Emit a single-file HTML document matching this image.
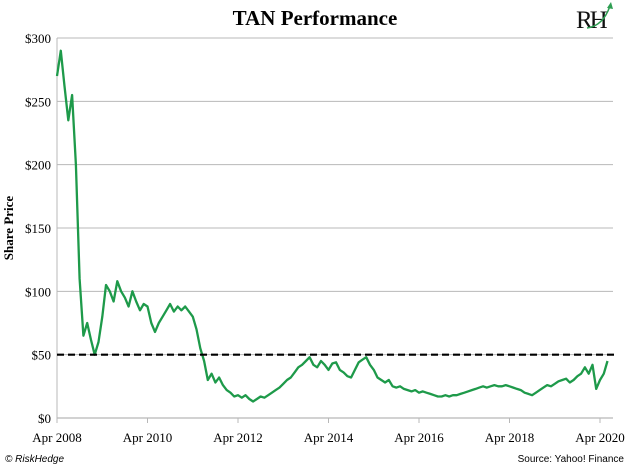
<!DOCTYPE html>
<html><head><meta charset="utf-8"><style>
body{margin:0;background:#fff;width:630px;height:468px;overflow:hidden}
svg{display:block}
</style></head><body>
<svg id="chart" width="630" height="468" font-family="'Liberation Serif', serif">
<text x="315" y="25" text-anchor="middle" font-size="21" font-weight="bold">TAN Performance</text>
<g>
<text x="576" y="28" font-size="25" fill="#111" letter-spacing="-3">RH</text>
<path d="M587 28 Q603 26 610 6" stroke="#2e9e52" stroke-width="1.5" fill="none"/>
<path d="M607 8 L611 2 L613 9 Z" fill="#2e9e52"/>
</g>
<text transform="translate(13,228) rotate(-90)" text-anchor="middle" font-size="13" font-weight="bold">Share Price</text>
<g id="grid"></g><g id="yticks"></g><g id="xticks"></g>
<g id="series"></g>
<text x="5" y="462" font-family="'Liberation Sans', sans-serif" font-size="10" font-style="italic">© RiskHedge</text>
<text x="624" y="462" text-anchor="end" font-family="'Liberation Sans', sans-serif" font-size="10">Source: Yahoo! Finance</text>
</svg>
<script>
const yTicks=[0,50,100,150,200,250,300];
const xLabels=["Apr 2008","Apr 2010","Apr 2012","Apr 2014","Apr 2016","Apr 2018","Apr 2020"];
const refLevel=[50];
const prices2008=[270,290,262,235,255,200,110,65,75];
const prices2009=[62,50,60,80,105,100,92,108,100,95,88,100];
const prices2010=[92,85,90,88,75,68,75,80,85,90,84,88];
const prices2011=[85,88,84,80,70,55,45,30,35,28,32,26];
const prices2012=[22,20,17,18,16,18,15,13,15,17,16,18];
const prices2013=[20,22,24,27,30,32,36,40,42,45,48,42];
const prices2014=[40,45,42,38,43,44,38,36,33,32,38,44];
const prices2015=[46,48,42,38,32,30,28,30,25,24,25,23];
const prices2016=[22,21,22,20,21,20,19,18,17,17,18,17];
const prices2017=[18,18,19,20,21,22,23,24,25,24,25,26];
const prices2018=[25,25,26,25,24,23,22,20,19,18,20,22];
const prices2019=[24,26,25,27,29,30,31,28,30,33,35,40];
const prices2020=[35,42,23,30,35,45];
const prices=[].concat(prices2008,prices2009,prices2010,prices2011,prices2012,prices2013,prices2014,prices2015,prices2016,prices2017,prices2018,prices2019,prices2020);
const NS="http://www.w3.org/2000/svg";
const X0=57,PXYR=45.25,Y0=418,PXD=380/300;
const xs=m=>X0+m/12*PXYR, ys=v=>Y0-v*PXD;
function mk(t,a,p){const e=document.createElementNS(NS,t);for(const k in a)e.setAttribute(k,a[k]);p.appendChild(e);return e;}
const grid=document.getElementById('grid'),yt=document.getElementById('yticks'),xt=document.getElementById('xticks'),ser=document.getElementById('series');
yTicks.forEach(v=>{
 if(v>0){const g=mk('line',{x1:X0,x2:613,y1:ys(v),y2:ys(v),stroke:'#b8b8b8','stroke-width':1},grid);
 
 }
 const t=mk('text',{x:X0-6,y:ys(v)+5,'text-anchor':'end','font-size':13},yt);t.textContent='$'+v;
 
 
});
const ax=mk('line',{x1:X0,x2:X0,y1:ys(300),y2:Y0,stroke:'#b8b8b8','stroke-width':1},grid);


const bx=mk('line',{x1:X0,x2:613,y1:Y0,y2:Y0,stroke:'#b8b8b8','stroke-width':1.2},grid);


xLabels.forEach((l,i)=>{const x=xs(i*24);
 mk('line',{x1:x,x2:x,y1:Y0,y2:Y0+5,stroke:'#b8b8b8'},xt);
 const t=mk('text',{x:x,y:Y0+24,'text-anchor':'middle','font-size':13},xt);t.textContent=l;
 
 
});
const path=mk('path',{d:prices.map((v,i)=>(i?'L':'M')+xs(i).toFixed(1)+' '+ys(v).toFixed(1)).join(''),fill:'none',stroke:'#1e9a4a','stroke-width':2.3,'stroke-linejoin':'round'},ser);


refLevel.forEach(v=>{const d=mk('line',{x1:X0,x2:617,y1:ys(v),y2:ys(v),stroke:'#000','stroke-width':2.2,'stroke-dasharray':'7,4'},ser);
 
 });
</script>
</body></html>
